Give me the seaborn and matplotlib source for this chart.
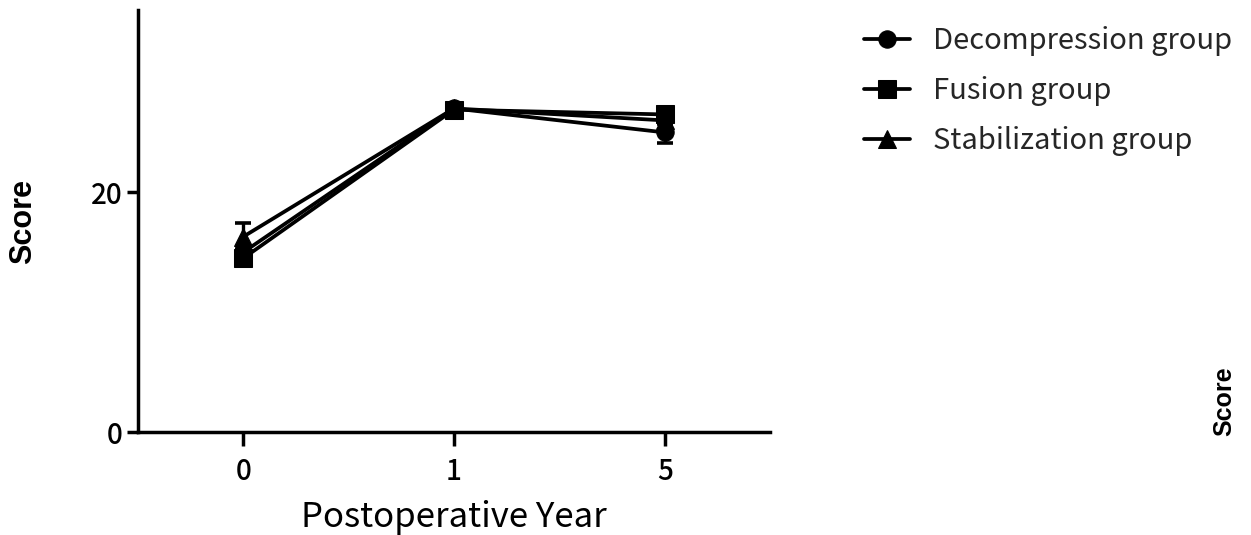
import matplotlib
matplotlib.use("Agg")
import matplotlib.pyplot as plt
import seaborn as sns
import pandas as pd

years = ["0", "1", "5"]
groups = ["Decompression group", "Fusion group", "Stabilization group"]
decompression = [15.0, 27.0, 25.0]
fusion = [14.5, 26.9, 26.5]
stabilization = [16.3, 27.0, 26.0]
decompression_sem = [0.3, 0.3, 0.9]
fusion_sem = [0.3, 0.3, 0.3]
stabilization_sem = [1.1, 0.3, 0.3]

means = [decompression, fusion, stabilization]
sems = [decompression_sem, fusion_sem, stabilization_sem]
markers = ["o", "s", "^"]

df = pd.DataFrame({
    "year": years * 3,
    "score": decompression + fusion + stabilization,
    "group": [g for g in groups for _ in years],
})

sns.set_theme(style="ticks")
gothic = ["Noto Sans CJK JP", "DejaVu Sans"]
plt.rcParams["font.family"] = gothic

fig = plt.figure(figsize=(12.51, 5.35), dpi=100)
ax = fig.add_axes([0.1103, 0.1925, 0.5052, 0.7885])

# error bars first so the markers sit on top
for vals, err in zip(means, sems):
    ax.errorbar(years, vals, yerr=err, fmt="none", ecolor="black",
                elinewidth=2.4, capsize=5.5, capthick=2.6, zorder=2)

sns.lineplot(data=df, x="year", y="score", style="group", markers=markers,
             dashes=False, color="black", linewidth=2.7, markersize=12.5,
             markeredgecolor="black", ax=ax, zorder=3)

ax.set_xlim(-0.5, 2.5)
ax.set_ylim(0, 35.2)
ax.set_yticks([0, 20])
ax.set_xticks([0, 1, 2])
ax.set_xticklabels(years)

for side in ["top", "right"]:
    ax.spines[side].set_visible(False)
for side in ["left", "bottom"]:
    ax.spines[side].set_linewidth(2.5)
    ax.spines[side].set_color("black")
ax.tick_params(axis="both", colors="black", width=2.5, length=8,
               labelsize=20, pad=3)
ax.tick_params(axis="x", length=10, pad=8)
for lbl in ax.get_xticklabels() + ax.get_yticklabels():
    lbl.set_fontweight("medium")

ax.set_xlabel("Postoperative Year", fontsize=25, color="black", va="baseline")
ax.xaxis.set_label_coords(0.5, -0.225)
ax.set_ylabel("Score", fontsize=22, fontweight="bold", color="black",
              family=["Liberation Sans", "DejaVu Sans"], labelpad=38)

handles, labels = ax.get_legend_handles_labels()
ax.legend().remove()
leg = fig.legend(handles, labels, loc="upper left", bbox_to_anchor=(0.67, 1.0),
                 frameon=False, fontsize=21, handlelength=1.55,
                 labelspacing=0.68, handletextpad=0.8)
for h in leg.legend_handles:
    h.set_color("black")
    h.set_linewidth(2.7)
    h.set_markersize(12.5)

fig.text(0.9785, 0.25, "Score", rotation=90, ha="center", va="center",
         fontsize=18, fontweight="bold", color="black",
         family=["Liberation Sans", "DejaVu Sans"])

fig.savefig("out.png", dpi=100)
